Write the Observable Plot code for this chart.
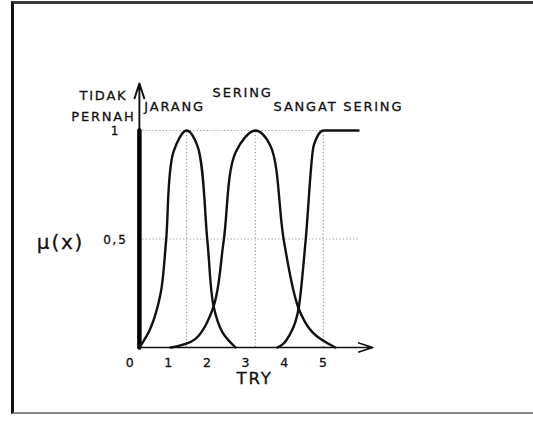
<!DOCTYPE html>
<html>
<head>
<meta charset="utf-8">
<script src="https://cdn.jsdelivr.net/npm/d3@7"></script>
<script src="https://cdn.jsdelivr.net/npm/@observablehq/plot@0.6"></script>
<style>
  html, body { margin: 0; padding: 0; overflow: hidden; background: #fff; width: 533px; height: 433px; }
  #wrap { position: relative; width: 533px; height: 433px; overflow: hidden; }
  #frame { position: absolute; left: 11px; top: 1px; right: -40px; height: 408px;
           border-left: 3px solid #111; border-top: 3px solid #3a3a3a; border-bottom: 2px solid #888; }
  #chart svg { position: absolute; left: 0; top: 0; background: transparent; }
  #chart text { font-family: "DejaVu Sans", sans-serif; fill: #111; stroke: #111; stroke-width: 0.3px; letter-spacing: 1.8px; }
</style>
</head>
<body>
<div id="wrap"><div id="chart"></div><div id="frame"></div></div>
<script>
// ---- data ----
const categories = ["TIDAK PERNAH", "JARANG", "SERING", "SANGAT SERING"];

const tidakPernahX = [0.23, 0.23];
const tidakPernahY = [0, 1];

const jarangX = [0.23, 0.52, 0.78, 0.92, 1.11, 1.45, 1.73, 1.99, 2.15, 2.38, 2.72];
const jarangY = [0, 0.09, 0.25, 0.49, 0.90, 1, 0.93, 0.49, 0.19, 0.07, 0];

const seringX = [1.04, 1.68, 2.15, 2.41, 2.72, 3.23, 3.62, 3.97, 4.35, 4.71, 5.30];
const seringY = [0, 0.04, 0.19, 0.49, 0.90, 1, 0.93, 0.49, 0.18, 0.07, 0];

const sangatX = [3.80, 4.09, 4.35, 4.53, 4.74, 4.99, 5.90];
const sangatY = [0, 0.05, 0.18, 0.49, 0.93, 1, 1];

const xTickValues = [0, 1, 2, 3, 4, 5];
const xTickLabels = ["0", "1", "2", "3", "4", "5"];
const yTickValues = [0.5, 1];
const yTickLabels = ["0,5", "1"];
const peakX = [1.45, 3.23, 4.99];
const xTitle = "TRY";
const yTitle = "μ(x)";

// ---- build tables ----
const zipXY = (xs, ys, name) => xs.map((x, i) => ({x, y: ys[i], name}));
const bells = [
  ...zipXY(jarangX, jarangY, categories[1]),
  ...zipXY(seringX, seringY, categories[2])
];
const sangat = zipXY(sangatX, sangatY, categories[3]);
const spike = zipXY(tidakPernahX, tidakPernahY, categories[0]);
const axisX = tidakPernahX[0];
const xEnd = 6.27, yEnd = 1.217;

const catLabels = [
  {text: "TIDAK\nPERNAH", x: -0.70, y: 1.125},
  {text: "JARANG", x: 1.14, y: 1.12},
  {text: "SERING", x: 2.90, y: 1.184},
  {text: "SANGAT SERING", x: 5.38, y: 1.12}
];

const guide = {stroke: "#9a9a9a", strokeWidth: 1.2, strokeDasharray: "1.2,2.2"};
const curveStyle = {x: "x", y: "y", z: "name", stroke: "#111", strokeWidth: 2.4};

const chart = Plot.plot({
  width: 533,
  height: 433,
  marginLeft: 130,
  marginRight: 16.5,
  marginTop: 130,
  marginBottom: 86,
  style: {background: "transparent", overflow: "visible"},
  x: {domain: [0, 10], axis: null},
  y: {domain: [0, 1], axis: null},
  marks: [
    // dotted guides
    Plot.ruleY([1], {x1: axisX, x2: peakX[2], ...guide}),
    Plot.ruleY([0.5], {x1: axisX, x2: sangatX[sangatX.length - 1], ...guide}),
    Plot.ruleX(peakX, {y1: 0, y2: 1, ...guide}),
    // axes with arrows
    Plot.arrow([{}], {x1: axisX, y1: 0, x2: xEnd, y2: 0, stroke: "#111", strokeWidth: 1.7, headLength: 13, headAngle: 36}),
    Plot.arrow([{}], {x1: axisX, y1: 1, x2: axisX, y2: yEnd, stroke: "#111", strokeWidth: 1.9, headLength: 13, headAngle: 36}),
    // TIDAK PERNAH spike
    Plot.line(spike, {x: "x", y: "y", stroke: "#000", strokeWidth: 4.5}),
    // membership curves
    Plot.line(bells, {...curveStyle, curve: "catmull-rom"}),
    Plot.line(sangat, {...curveStyle, curve: "monotone-x"}),
    // tick labels
    Plot.text(xTickValues, {x: d => d, y: 0, dy: 15, text: (d, i) => xTickLabels[i], fontSize: 12.5}),
    Plot.text(yTickValues, {x: axisX, y: d => d, dx: -24, dy: 1, text: (d, i) => yTickLabels[i], fontSize: 12}),
    // titles
    Plot.text([xTitle], {x: 3.21, y: 0, dy: 31, text: d => d, fontSize: 16.5}),
    Plot.text([yTitle], {x: -1.81, y: 0.484, text: d => d, fontSize: 20}),
    // category labels
    Plot.text(catLabels, {x: "x", y: "y", text: "text", fontSize: 13, lineHeight: 1.65})
  ]
});
document.getElementById("chart").appendChild(chart);
</script>
</body>
</html>
